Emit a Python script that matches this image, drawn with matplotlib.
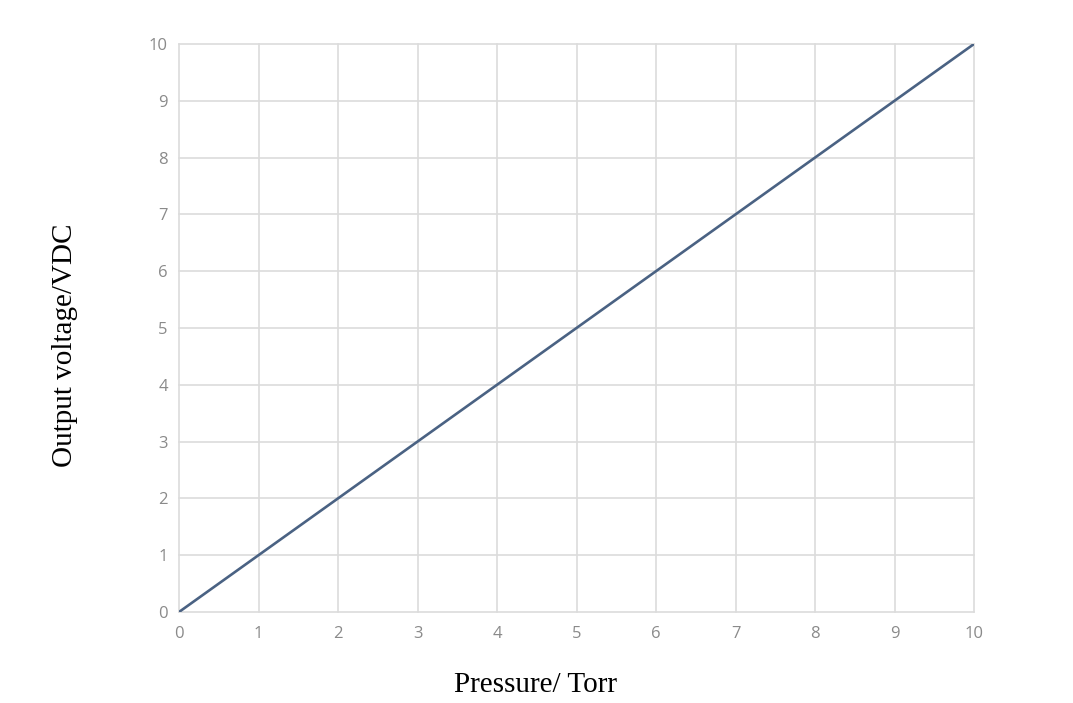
import numpy as np
import matplotlib.pyplot as plt

# data
pressure = [0, 1, 2, 3, 4, 5, 6, 7, 8, 9, 10]
voltage = [0, 1, 2, 3, 4, 5, 6, 7, 8, 9, 10]
ticks = list(range(0, 11))

fig = plt.figure(figsize=(10.73, 7.03), dpi=100)
ax = fig.add_axes([179 / 1073, 1 - 612 / 703, (974 - 179) / 1073, (612 - 44) / 703])

ax.plot(pressure, voltage, color="#4a6283", lw=1.9, solid_capstyle="round", zorder=3)

ax.set_xlim(0, 10)
ax.set_ylim(0, 10)
ax.set_xticks(ticks)
ax.set_yticks(ticks)
ax.grid(True, color="#dcdcdc", lw=1.2)
for gl in ax.get_xgridlines() + ax.get_ygridlines():
    gl.set_clip_on(False)
for s in ax.spines.values():
    s.set_visible(False)
ax.tick_params(length=0, labelsize=12, labelcolor="#8a8a8a")
ax.tick_params(axis="x", pad=10)
ax.tick_params(axis="y", pad=8)
for lbl in ax.get_xticklabels() + ax.get_yticklabels():
    lbl.set_family("Open Sans")

# axis titles sit on the figure, not centred on the axes
fig.text(535 / 1073, 1 - 685 / 703, "Pressure/ Torr", family="Liberation Serif",
         fontsize=21, ha="center", va="center")
fig.text(65 / 1073, 1 - 345 / 703, "Output voltage/VDC", family="Liberation Serif",
         fontsize=21, ha="center", va="center", rotation=90)

fig.savefig("out.png", dpi=100)
